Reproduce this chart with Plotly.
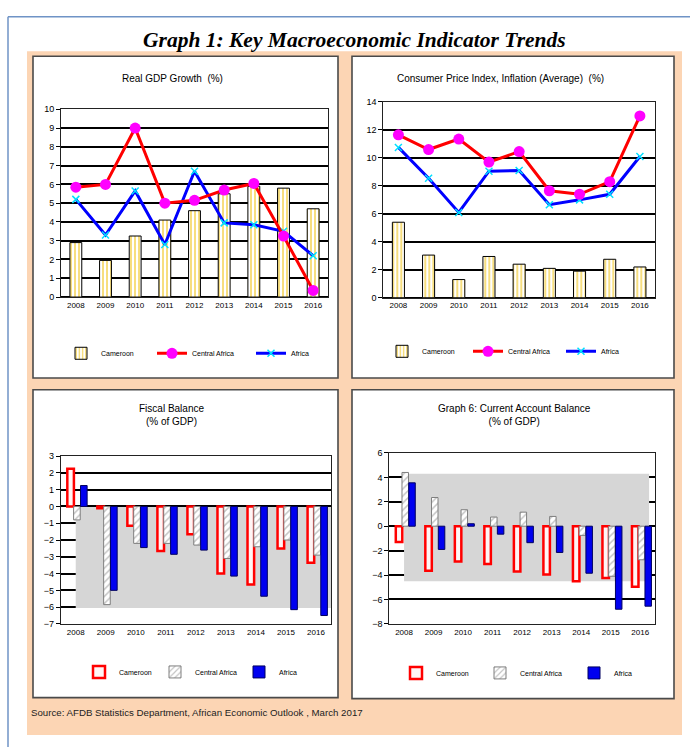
import plotly.graph_objects as go

# ---------------- data ----------------
years = ["2008", "2009", "2010", "2011", "2012", "2013", "2014", "2015", "2016"]

gdp_cameroon = [2.9, 1.95, 3.25, 4.1, 4.6, 5.5, 5.9, 5.8, 4.7]
gdp_central = [5.85, 6.0, 9.0, 5.0, 5.15, 5.7, 6.05, 3.25, 0.35]
gdp_africa = [5.2, 3.3, 5.65, 2.8, 6.7, 3.95, 3.85, 3.5, 2.2]

cpi_cameroon = [5.4, 3.05, 1.3, 2.95, 2.4, 2.1, 1.9, 2.75, 2.2]
cpi_central = [11.65, 10.6, 11.35, 9.7, 10.45, 7.65, 7.4, 8.3, 13.0]
cpi_africa = [10.75, 8.55, 6.1, 9.05, 9.1, 6.65, 7.0, 7.4, 10.1]

fiscal_cameroon = [2.25, -0.1, -1.15, -2.65, -1.65, -4.0, -4.65, -2.5, -3.35]
fiscal_central = [-0.8, -5.85, -2.2, -2.2, -2.3, -3.1, -2.4, -2.0, -2.9]
fiscal_africa = [1.25, -5.0, -2.45, -2.85, -2.6, -4.15, -5.35, -6.15, -6.5]

ca_cameroon = [-1.3, -3.65, -2.9, -3.1, -3.7, -3.95, -4.5, -4.25, -4.95]
ca_central = [4.4, 2.35, 1.35, 0.75, 1.15, 0.8, -0.75, -4.1, -2.75]
ca_africa = [3.55, -1.9, 0.2, -0.65, -1.35, -2.15, -3.85, -6.8, -6.55]

series_names = ["Cameroon", "Central Africa", "Africa"]

# ---------------- helpers ----------------
W, H = 690, 747
FONT = "Liberation Sans, Arial, sans-serif"


def px(x):
    return x / W


def py(y):
    return 1 - y / H


fig = go.Figure()

STRIPES = dict(shape="|", fgcolor="#F0BE00", bgcolor="white", size=4, solidity=0.5)

# ---------- Panel 1 : GDP ----------
fig.add_trace(go.Bar(
    x=years, y=gdp_cameroon, name=series_names[0], width=0.4,
    marker=dict(color="white", line=dict(color="black", width=1), pattern=STRIPES),
    xaxis="x", yaxis="y", legend="legend"))
fig.add_trace(go.Scatter(
    x=years, y=gdp_africa, name=series_names[2], mode="lines+markers",
    line=dict(color="#0000FF", width=3),
    marker=dict(symbol="x-thin", size=7, color="#00FFFF", line=dict(color="#00E0FF", width=1.5)),
    xaxis="x", yaxis="y", legend="legend3"))
fig.add_trace(go.Scatter(
    x=years, y=gdp_central, name=series_names[1], mode="lines+markers",
    line=dict(color="#FF0000", width=3),
    marker=dict(symbol="circle", size=11, color="#FF00FF"),
    xaxis="x", yaxis="y", legend="legend2"))

# ---------- Panel 2 : CPI ----------
fig.add_trace(go.Bar(
    x=years, y=cpi_cameroon, name=series_names[0], width=0.4,
    marker=dict(color="white", line=dict(color="black", width=1), pattern=STRIPES),
    xaxis="x2", yaxis="y2", legend="legend4"))
fig.add_trace(go.Scatter(
    x=years, y=cpi_africa, name=series_names[2], mode="lines+markers",
    line=dict(color="#0000FF", width=3),
    marker=dict(symbol="x-thin", size=7, color="#00FFFF", line=dict(color="#00E0FF", width=1.5)),
    xaxis="x2", yaxis="y2", legend="legend6"))
fig.add_trace(go.Scatter(
    x=years, y=cpi_central, name=series_names[1], mode="lines+markers",
    line=dict(color="#FF0000", width=3),
    marker=dict(symbol="circle", size=11, color="#FF00FF"),
    xaxis="x2", yaxis="y2", legend="legend5"))


# ---------- Panels 3 & 4 : grouped bars ----------
def grouped(xa, ya, vals_cam, vals_cen, vals_afr, legs):
    fig.add_trace(go.Bar(
        x=years, y=vals_cam, name=series_names[0], offset=-0.28, width=0.22,
        marker=dict(color="#FFF5F5", line=dict(color="#FF0000", width=2.5)),
        xaxis=xa, yaxis=ya, legend=legs[0]))
    fig.add_trace(go.Bar(
        x=years, y=vals_cen, name=series_names[1], offset=-0.07, width=0.22,
        marker=dict(color="white", line=dict(color="#7F7F7F", width=1),
                    pattern=dict(shape="/", fgcolor="#8C8C8C", bgcolor="white", size=5, solidity=0.3)),
        xaxis=xa, yaxis=ya, legend=legs[1]))
    fig.add_trace(go.Bar(
        x=years, y=vals_afr, name=series_names[2], offset=0.16, width=0.22,
        marker=dict(color="#0000F0", line=dict(color="#000060", width=1)),
        xaxis=xa, yaxis=ya, legend=legs[2]))


grouped("x3", "y3", fiscal_cameroon, fiscal_central, fiscal_africa, ["legend7", "legend8", "legend9"])
grouped("x4", "y4", ca_cameroon, ca_central, ca_africa, ["legend10", "legend11", "legend12"])

# ---------------- axes ----------------
xtickfont = dict(family=FONT, size=8, color="black")
ytickfont = dict(family=FONT, size=9, color="black")


def xax(dom):
    return dict(domain=[px(dom[0]), px(dom[1])], type="category", range=[-0.5, 8.5],
                showgrid=False, showline=True, linecolor="#222222", linewidth=1, mirror=True,
                ticks="", tickfont=xtickfont, fixedrange=True)


def yax(dom, rng, dt):
    return dict(domain=[py(dom[1]), py(dom[0])], range=rng, dtick=dt,
                showgrid=True, gridcolor="black", gridwidth=1.6,
                zeroline=True, zerolinecolor="black", zerolinewidth=1.6,
                showline=True, linecolor="#222222", linewidth=1, mirror=True,
                ticks="outside", ticklen=4, tickcolor="black", tickfont=ytickfont,
                fixedrange=True)


fig.update_layout(
    xaxis=xax((61, 328)), yaxis=dict(yax((105.7, 296), [0, 10], 1), anchor="x"),
    xaxis2=xax((383.3, 655)), yaxis2=dict(yax((98.3, 296.7), [0, 14], 2), anchor="x2"),
    xaxis3=xax((60.7, 331)), yaxis3=dict(yax((457.3, 627.3), [-7, 3], 1), anchor="x3"),
    xaxis4=xax((389.3, 655)), yaxis4=dict(yax((454, 627.3), [-8, 6], 2), anchor="x4"),
)
fig.layout.xaxis.anchor = "y"
fig.layout.xaxis2.anchor = "y2"
fig.layout.xaxis3.anchor = "y3"
fig.layout.xaxis4.anchor = "y4"

# ---------------- background shapes ----------------
shapes = []
# outer page border
shapes.append(dict(type="line", xref="paper", yref="paper", x0=px(8), x1=px(700), y0=py(12), y1=py(12),
                   line=dict(color="#6F93C6", width=1.5), layer="below"))
shapes.append(dict(type="line", xref="paper", yref="paper", x0=px(8), x1=px(8), y0=py(12), y1=py(760),
                   line=dict(color="#6F93C6", width=1.5), layer="below"))
# peach background
shapes.append(dict(type="rect", xref="paper", yref="paper", x0=px(27), x1=px(682), y0=py(740), y1=py(47),
                   fillcolor="#FCD5B4", line=dict(width=0), layer="below"))
# panel frames
for (x0, y0, x1, y1) in [(33, 52, 338, 378), (352, 52, 674, 378), (33, 390, 338, 702), (352, 390, 674, 703)]:
    shapes.append(dict(type="rect", xref="paper", yref="paper", x0=px(x0), x1=px(x1), y0=py(y1), y1=py(y0),
                       fillcolor="white", line=dict(color="#4A4A4A", width=1.6), layer="below"))
fig.update_layout(shapes=shapes)

# grey plot-area patches in the bar panels
for xr, yr, x0, x1, y0, y1 in [("x3", "y3", 0, 8.5, -6.05, -0.03), ("x4", "y4", 0, 8.3, -4.5, 4.3)]:
    try:
        fig.add_shape(type="rect", xref=xr, yref=yr, x0=x0, x1=x1, y0=y0, y1=y1,
                      fillcolor="#D6D6D6", line=dict(width=0), layer="between")
    except Exception:
        fig.add_shape(type="rect", xref=xr, yref=yr, x0=x0, x1=x1, y0=y0, y1=y1,
                      fillcolor="#D6D6D6", line=dict(width=0), layer="below")

# ---------------- texts ----------------
ann = []
ann.append(dict(text="<b><i>Graph 1: Key Macroeconomic Indicator Trends</i></b>", x=px(355), y=py(35),
                xref="paper", yref="paper", showarrow=False, xanchor="center", yanchor="middle",
                font=dict(family="Liberation Serif, Times New Roman, serif", size=21.5, color="black")))
tfont = dict(family=FONT, size=10, color="black")
ann.append(dict(text="Real GDP Growth  (%)", x=px(172), y=py(74), xref="paper", yref="paper",
                showarrow=False, xanchor="center", yanchor="middle", font=tfont))
ann.append(dict(text="Consumer Price Index, Inflation (Average)  (%)", x=px(500), y=py(75), xref="paper",
                yref="paper", showarrow=False, xanchor="center", yanchor="middle", font=tfont))
ann.append(dict(text="Fiscal Balance<br>(% of GDP)", x=px(171), y=py(416), xref="paper", yref="paper",
                showarrow=False, xanchor="center", yanchor="middle", font=tfont))
ann.append(dict(text="Graph 6: Current Account Balance<br>(% of GDP)", x=px(514), y=py(416), xref="paper",
                yref="paper", showarrow=False, xanchor="center", yanchor="middle", font=tfont))
ann.append(dict(text="Source: AFDB Statistics Department, African Economic Outlook , March 2017", x=px(29),
                y=py(717), xref="paper", yref="paper", showarrow=False, xanchor="left", yanchor="middle",
                font=dict(family=FONT, size=9.7, color="#222222")))
fig.update_layout(annotations=ann)

# ---------------- legends (one per item) ----------------
legfont = dict(family=FONT, size=7, color="black")
leg_pos = {
    "legend": (101, 353), "legend2": (192, 353), "legend3": (291, 353),
    "legend4": (422, 351), "legend5": (508, 351), "legend6": (601, 351),
    "legend7": (115, 676), "legend8": (191, 676), "legend9": (275, 676),
    "legend10": (432, 677), "legend11": (516, 677), "legend12": (610, 677),
}
leg_layout = {}
for i, (name, (tx, ty)) in enumerate(leg_pos.items()):
    shift = 40 if i < 6 else 36
    leg_layout[name] = dict(x=px(tx - shift), y=py(ty), xanchor="left", yanchor="middle", orientation="h",
                            bgcolor="rgba(0,0,0,0)", borderwidth=0, font=legfont, itemwidth=30)
fig.update_layout(**leg_layout)

fig.update_layout(
    width=W, height=H, autosize=False,
    margin=dict(l=0, r=0, t=0, b=0, pad=0),
    paper_bgcolor="white", plot_bgcolor="rgba(0,0,0,0)",
    showlegend=True, barmode="overlay",
    font=dict(family=FONT, color="black"),
)

fig.write_html("out.html")
